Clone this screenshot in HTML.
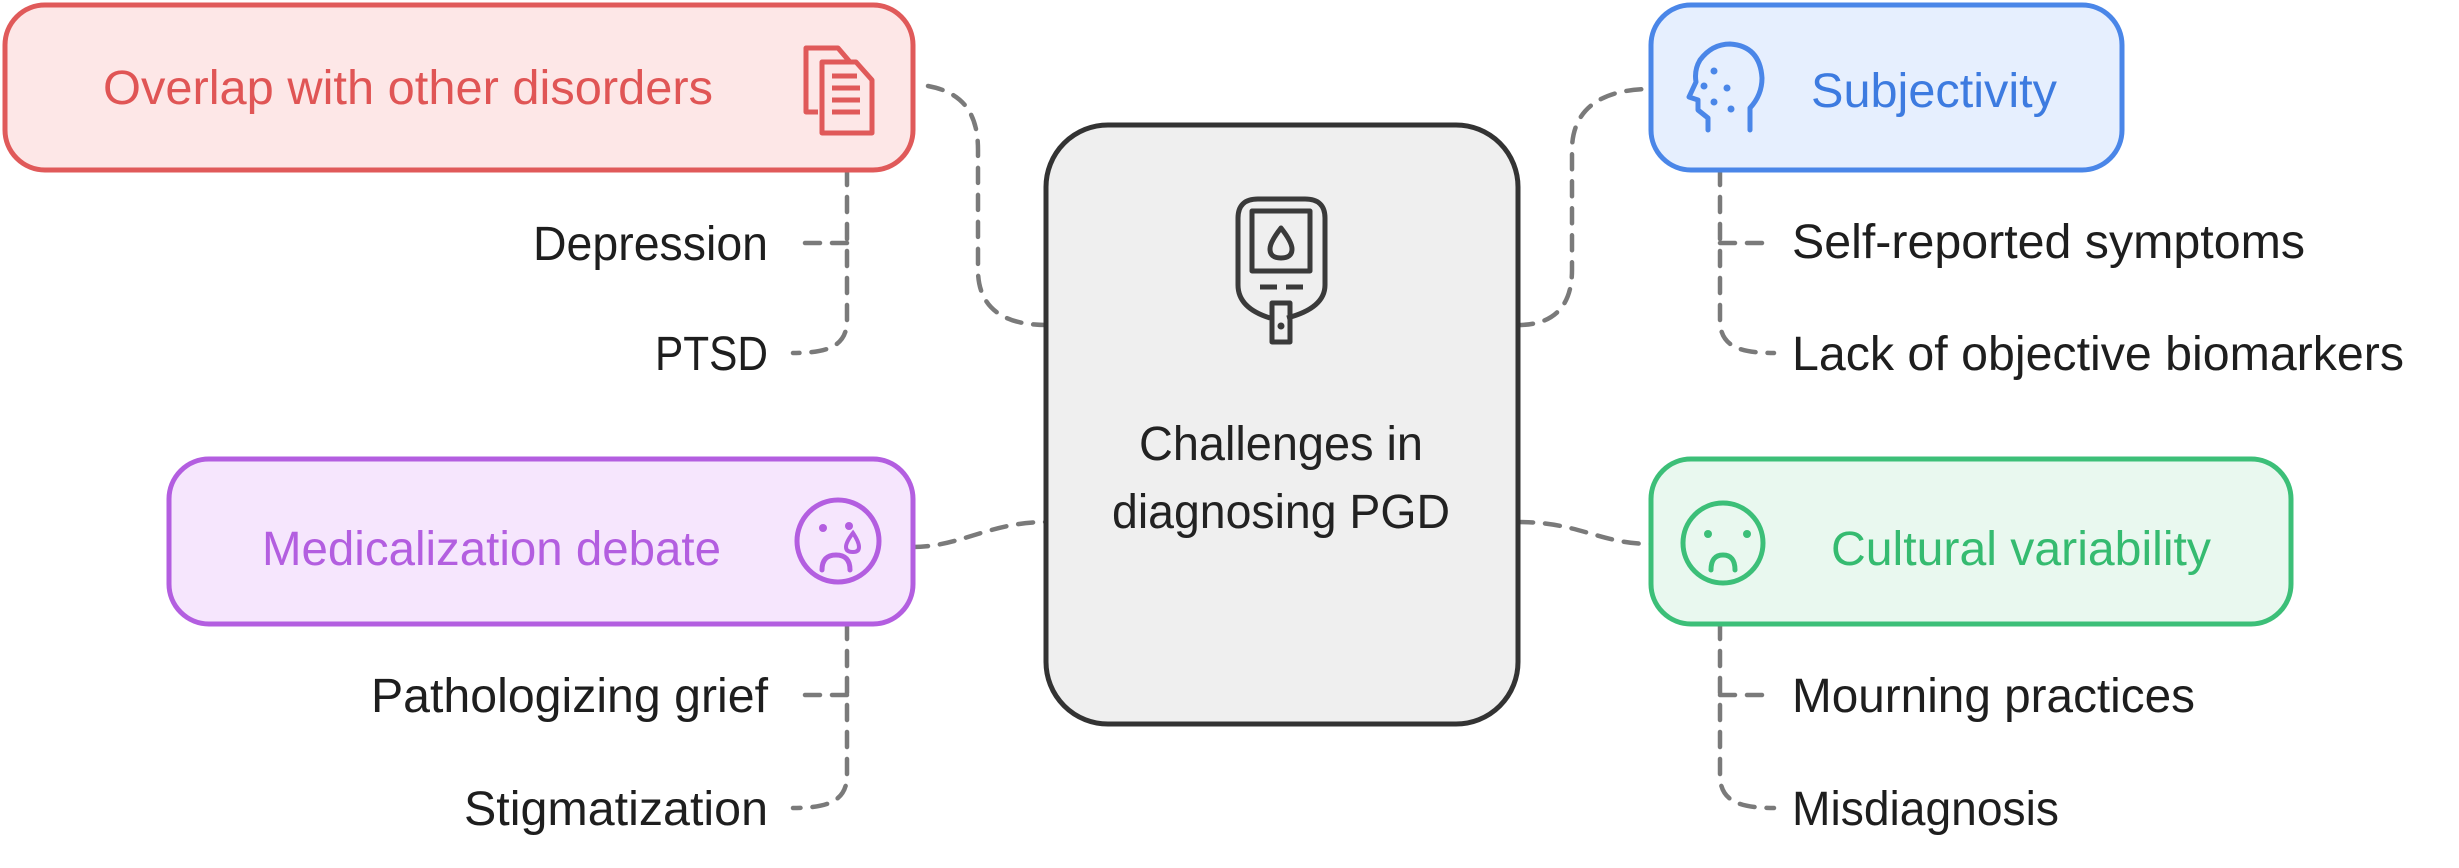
<!DOCTYPE html>
<html><head><meta charset="utf-8"><style>
html,body{margin:0;padding:0;background:#fff;}
svg{display:block;}
text{font-family:"Liberation Sans",sans-serif;font-size:48px;}
</style></head><body>
<svg width="2459" height="868" viewBox="0 0 2459 868" xmlns="http://www.w3.org/2000/svg">
<g fill="none" stroke="#7a7a7a" stroke-width="4.5" stroke-dasharray="15 12" stroke-linecap="round">
<path d="M928,86 C960,92 978,110 978,150 L978,270 C978,305 1000,325 1046,325"/>
<path d="M1518,325 C1555,325 1572,305 1572,270 L1572,150 C1572,110 1600,89 1651,89"/>
<path d="M913,547 C960,547 990,522 1046,522"/>
<path d="M1518,522 C1580,522 1600,544 1651,544"/>
<path d="M847,170 L847,320 C847,345 830,353 793,353"/>
<path d="M847,243 L795,243"/>
<path d="M847,624 L847,775 C847,800 830,808 793,808"/>
<path d="M847,695 L795,695"/>
<path d="M1720,170 L1720,320 C1720,345 1737,353 1774,353"/>
<path d="M1720,243 L1774,243"/>
<path d="M1720,624 L1720,775 C1720,800 1737,808 1774,808"/>
<path d="M1720,695 L1774,695"/>
</g>

<rect x="1046" y="125" width="472" height="599" rx="62" fill="#efefef" stroke="#333" stroke-width="5"/>
<g fill="none" stroke="#3a3a3a" stroke-width="5" stroke-linejoin="round">
<path d="M1270,318 Q1238,308 1238,285 L1238,218 Q1238,199 1258,199 L1305,199 Q1325,199 1325,218 L1325,285 Q1325,308 1287,318"/>
<rect x="1252" y="211" width="58" height="60"/>
<path d="M1281,228 Q1270,242 1270,249 Q1270,258 1281,258 Q1292,258 1292,249 Q1292,242 1281,228 Z"/>
<line x1="1260" y1="287" x2="1277" y2="287"/><line x1="1286" y1="287" x2="1303" y2="287"/>
<rect x="1272" y="303" width="18" height="39"/>
</g>
<circle cx="1281" cy="326" r="3.5" fill="#3a3a3a"/>
<text x="1281" y="460" text-anchor="middle" fill="#222" textLength="284" lengthAdjust="spacingAndGlyphs">Challenges in</text>
<text x="1281" y="528" text-anchor="middle" fill="#222" textLength="338" lengthAdjust="spacingAndGlyphs">diagnosing PGD</text>

<rect x="5" y="5" width="908" height="165" rx="40" fill="#fde7e7" stroke="#e05a5a" stroke-width="5"/>
<text x="103" y="104" fill="#e05555" textLength="610" lengthAdjust="spacingAndGlyphs">Overlap with other disorders</text>
<g fill="none" stroke="#e05a5a" stroke-width="5" stroke-linejoin="round">
<path d="M818,112 L806,112 L806,48 L838,48 L850,62"/>
<path d="M822,62 L856,62 L872,80 L872,133 L822,133 Z"/>
<line x1="832" y1="76" x2="857" y2="76"/><line x1="832" y1="88" x2="860" y2="88"/><line x1="832" y1="100" x2="860" y2="100"/><line x1="832" y1="112" x2="860" y2="112"/>
</g>

<rect x="169" y="459" width="744" height="165" rx="40" fill="#f6e6fd" stroke="#b35ee0" stroke-width="5"/>
<text x="262" y="565" fill="#b35ee0" textLength="459" lengthAdjust="spacingAndGlyphs">Medicalization debate</text>
<g fill="none" stroke="#b35ee0" stroke-width="5" stroke-linecap="round">
<circle cx="838" cy="541" r="41"/>
<path d="M822,570 Q822,555 836,555 Q850,555 850,570"/>
<path d="M853,533 Q846,542 846,547 Q846,552 853,552 Q859,552 859,547 Q859,542 853,533 Z" stroke-width="4"/>
</g>
<circle cx="823" cy="528" r="4" fill="#b35ee0"/><circle cx="849" cy="526" r="4" fill="#b35ee0"/>

<rect x="1651" y="5" width="471" height="165" rx="40" fill="#e6effe" stroke="#4a86e8" stroke-width="5"/>
<text x="1811" y="107" fill="#3d7be0" textLength="246" lengthAdjust="spacingAndGlyphs">Subjectivity</text>
<g fill="none" stroke="#4a86e8" stroke-width="5" stroke-linejoin="round" stroke-linecap="round">
<path d="M1708,130 L1708,118 L1698,110 L1698,100 L1689,97 L1696,82 Q1694,70 1700,60 Q1712,44 1730,44 Q1760,46 1762,78 Q1762,95 1750,108 L1750,130"/>
</g>
<g fill="#4a86e8"><circle cx="1714" cy="71" r="3.5"/><circle cx="1704" cy="86" r="3.5"/><circle cx="1727" cy="88" r="3.5"/><circle cx="1714" cy="102" r="3.5"/><circle cx="1731" cy="109" r="3.5"/></g>

<rect x="1651" y="459" width="640" height="165" rx="40" fill="#e9f8ef" stroke="#3cbf78" stroke-width="5"/>
<text x="1831" y="565" fill="#35bb70" textLength="380" lengthAdjust="spacingAndGlyphs">Cultural variability</text>
<g fill="none" stroke="#3cbf78" stroke-width="5" stroke-linecap="round">
<circle cx="1723" cy="543" r="40"/>
<path d="M1711,570 Q1711,555 1723,555 Q1735,555 1735,570"/>
</g>
<circle cx="1708" cy="534" r="4" fill="#3cbf78"/><circle cx="1747" cy="534" r="4" fill="#3cbf78"/>

<g fill="#1e1e1e">
<text x="768" y="260" text-anchor="end" textLength="235" lengthAdjust="spacingAndGlyphs">Depression</text>
<text x="768" y="370" text-anchor="end" textLength="113" lengthAdjust="spacingAndGlyphs">PTSD</text>
<text x="768" y="712" text-anchor="end" textLength="397" lengthAdjust="spacingAndGlyphs">Pathologizing grief</text>
<text x="768" y="825" text-anchor="end" textLength="304" lengthAdjust="spacingAndGlyphs">Stigmatization</text>
<text x="1792" y="258" textLength="513" lengthAdjust="spacingAndGlyphs">Self-reported symptoms</text>
<text x="1792" y="370" textLength="612" lengthAdjust="spacingAndGlyphs">Lack of objective biomarkers</text>
<text x="1792" y="712" textLength="403" lengthAdjust="spacingAndGlyphs">Mourning practices</text>
<text x="1792" y="825" textLength="267" lengthAdjust="spacingAndGlyphs">Misdiagnosis</text>
</g>
</svg>
</body></html>
